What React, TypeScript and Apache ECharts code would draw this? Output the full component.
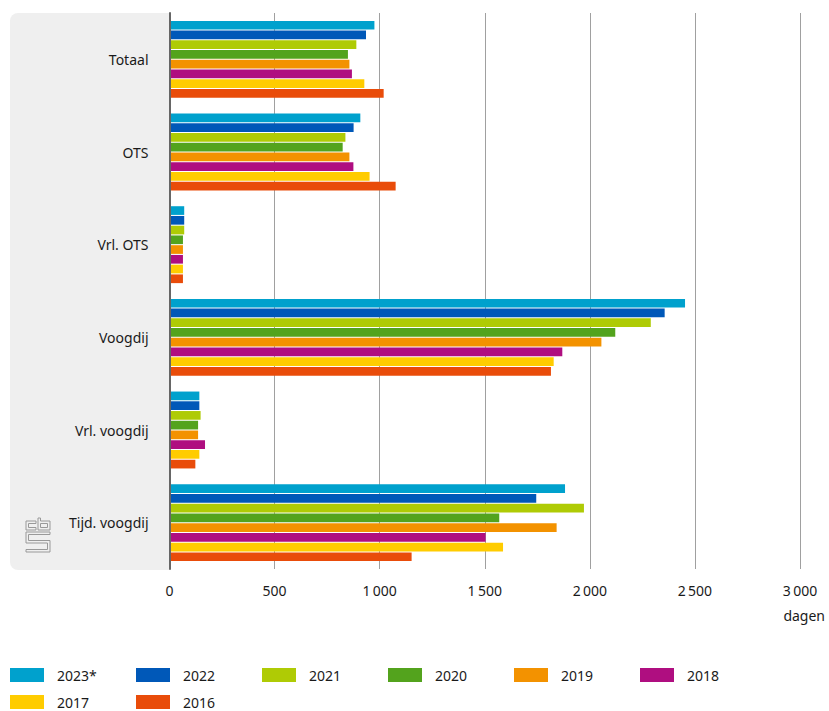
import React, { useEffect, useRef } from "react";
import * as echarts from "echarts";

const categories = ["Totaal", "OTS", "Vrl. OTS", "Voogdij", "Vrl. voogdij", "Tijd. voogdij"];
const seriesNames = ["2023*", "2022", "2021", "2020", "2019", "2018", "2017", "2016"];
const colors = ["#00a1cd", "#0058b8", "#afcb05", "#53a31d", "#f39200", "#af0e80", "#ffcc00", "#e94c0a"];

const v2023 = [975, 908, 70, 2453, 142, 1882];
const v2022 = [935, 876, 70, 2356, 142, 1745];
const v2021 = [889, 837, 70, 2290, 148, 1972];
const v2020 = [849, 824, 64, 2121, 136, 1569];
const v2019 = [856, 856, 64, 2055, 136, 1842];
const v2018 = [868, 875, 64, 1869, 169, 1504];
const v2017 = [927, 952, 64, 1828, 142, 1587];
const v2016 = [1019, 1076, 64, 1815, 123, 1152];
const seriesValues = [v2023, v2022, v2021, v2020, v2019, v2018, v2017, v2016];

const xTicks = [0, 500, 1000, 1500, 2000, 2500, 3000];
const xUnit = "dagen";

const FONT = "'Noto Sans', sans-serif";

function fmt(v: number): string {
  if (v >= 1000) {
    const t = Math.floor(v / 1000);
    const r = String(v % 1000).padStart(3, "0");
    return t + "\u2009" + r;
  }
  return String(v);
}

const legendPos = [
  [10, 668], [136, 668], [262, 668], [388, 668], [514, 668], [640, 668],
  [10, 695], [136, 695],
];

export default function App() {
  const ref = useRef<HTMLDivElement>(null);
  useEffect(() => {
    if (!ref.current) return;
    const chart = echarts.init(ref.current, null, { renderer: "svg" });
    const grey = "#999999";
    chart.setOption({
      animation: false,
      textStyle: { fontFamily: FONT },
      grid: { left: 169.5, right: 29, top: 13, bottom: 142, containLabel: false },
      xAxis: {
        type: "value",
        min: xTicks[0],
        max: xTicks[xTicks.length - 1],
        interval: 500,
        axisLine: { show: false },
        axisTick: { show: false },
        axisLabel: {
          margin: 14,
          fontSize: 14,
          color: "#1a1a1a",
          fontFamily: FONT,
          formatter: (v: number) => fmt(v),
        },
        splitLine: { show: true, lineStyle: { color: "#a0a0a0", width: 1 } },
      },
      yAxis: {
        type: "category",
        data: categories,
        inverse: true,
        axisLine: { show: true, lineStyle: { color: "#666666", width: 2 } },
        axisTick: { show: false },
        axisLabel: { margin: 21, fontSize: 14, color: "#1a1a1a", fontFamily: FONT },
        splitLine: { show: false },
        z: 3,
      },
      legend: seriesNames.map((n, i) => ({
        data: [n],
        left: legendPos[i][0],
        top: legendPos[i][1],
        padding: 0,
        itemWidth: 34,
        itemHeight: 14,
        icon: "rect",
        selectedMode: false,
        textStyle: { fontSize: 14, color: "#1a1a1a", fontFamily: FONT, padding: [0, 0, 0, 8] },
      })),
      series: seriesNames.map((n, i) => ({
        type: "bar",
        name: n,
        data: seriesValues[i],
        barCategoryGap: "17%",
        barGap: "12%",
        itemStyle: { color: colors[i] },
        emphasis: { disabled: true },
      })),
      graphic: [
        {
          type: "rect",
          z: -10,
          silent: true,
          shape: { x: 10, y: 13, width: 160, height: 557, r: [8, 0, 0, 8] },
          style: { fill: "#efefef" },
        },
        {
          type: "polygon",
          silent: true,
          z: 1,
          shape: { points: [[36, 521], [26, 521], [26, 530], [36, 530], [36, 527.5], [28.5, 527.5], [28.5, 523.5], [36, 523.5]] },
          style: { fill: "none", stroke: grey, lineWidth: 1 },
        },
        {
          type: "polygon",
          silent: true,
          z: 1,
          shape: { points: [[38, 518], [40.5, 518], [40.5, 521], [50, 521], [50, 530], [38, 530]] },
          style: { fill: "none", stroke: grey, lineWidth: 1 },
        },
        {
          type: "rect",
          silent: true,
          z: 1,
          shape: { x: 40.5, y: 523.5, width: 7, height: 4 },
          style: { fill: "none", stroke: grey, lineWidth: 1 },
        },
        {
          type: "polygon",
          silent: true,
          z: 1,
          shape: {
            points: [[50, 532], [26, 532], [26, 543], [47.5, 543], [47.5, 549.5], [26, 549.5], [26, 552], [50, 552], [50, 540.5], [28.5, 540.5], [28.5, 534.5], [50, 534.5]],
          },
          style: { fill: "none", stroke: grey, lineWidth: 1 },
        },
        {
          type: "text",
          right: 4,
          top: 608,
          style: { text: xUnit, fontSize: 14, fill: "#1a1a1a", fontFamily: FONT },
        },
      ],
    });
    return () => chart.dispose();
  }, []);
  return <div ref={ref} style={{ width: 829, height: 711, position: "absolute", left: 0, top: 0 }} />;
}
